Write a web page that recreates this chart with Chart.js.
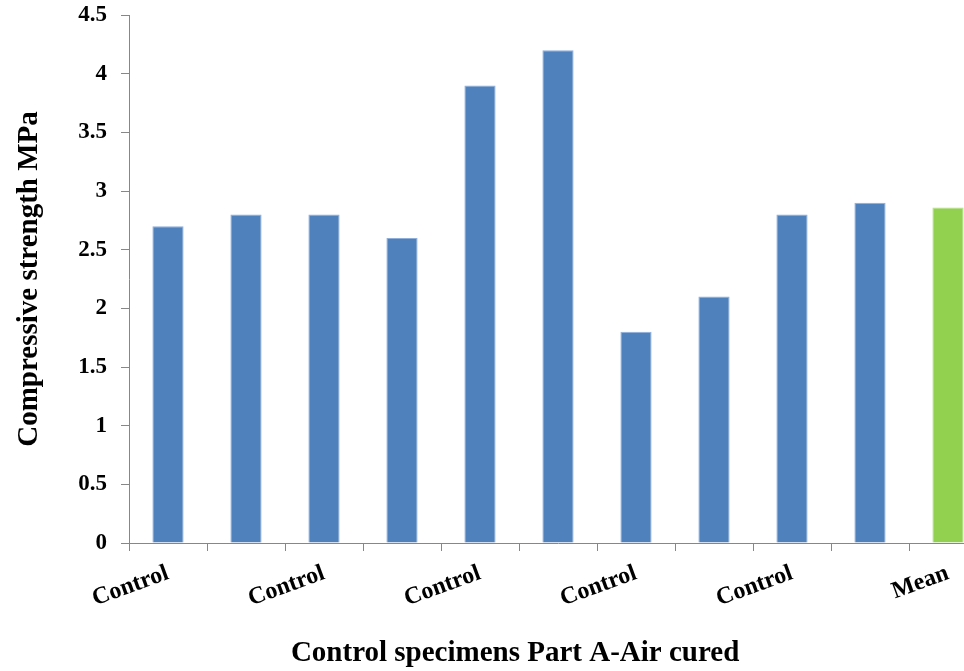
<!DOCTYPE html>
<html>
<head>
<meta charset="utf-8">
<title>Compressive strength – Control specimens Part A</title>
<script src="https://cdn.jsdelivr.net/npm/chart.js@4/dist/chart.umd.min.js"></script>
<style>
  html, body { margin: 0; padding: 0; background: #ffffff; overflow: hidden; }
  #wrap { position: relative; width: 1000px; height: 671px; }
</style>
</head>
<body>
<div id="wrap"><canvas id="chart"></canvas></div>
<script>
// Specimen categories (ten control specimens and their mean)
const categories = ['Control', 'Control', 'Control', 'Control', 'Control',
                    'Control', 'Control', 'Control', 'Control', 'Control', 'Mean'];
// Compressive strength, MPa
const strength = [2.7, 2.8, 2.8, 2.6, 3.9, 4.2, 1.8, 2.1, 2.8, 2.9, 2.86];
// Value axis range and step
const yMin = 0;
const yMax = 4.5;
const yStep = 0.5;

const xTitle = 'Control specimens Part A-Air cured';
const yTitle = 'Compressive strength MPa';

const SERIF = "'Liberation Serif', 'Times New Roman', Times, serif";
const AXIS_GREY = '#878787';

// Draws the category-axis caption under the rotated labels
const xCaption = {
  id: 'xCaption',
  afterDraw(chart) {
    const { ctx, chartArea } = chart;
    ctx.save();
    ctx.font = 'bold 29px ' + SERIF;
    ctx.fillStyle = '#000000';
    ctx.textAlign = 'center';
    ctx.textBaseline = 'alphabetic';
    const cx = chartArea.left + (chartArea.right - chartArea.left) * 0.45;
    ctx.fillText(xTitle, cx, chart.height - 10);
    ctx.restore();
  }
};

new Chart(document.getElementById('chart'), {
  type: 'bar',
  data: {
    labels: categories,
    datasets: [{
      data: strength,
      backgroundColor: categories.map(c => c === 'Mean' ? '#92D050' : '#4F81BD'),
      borderColor: categories.map(c => c === 'Mean' ? '#B4E08A' : '#8FAEDA'),
      borderWidth: 1,
      categoryPercentage: 1.0,
      barPercentage: 0.4
    }]
  },
  options: {
    responsive: true,
    maintainAspectRatio: false,
    animation: false,
    layout: { padding: { left: 0, right: 13, top: 15, bottom: 0 } },
    plugins: {
      legend: { display: false },
      tooltip: { enabled: false }
    },
    scales: {
      x: {
        offset: true,
        grid: {
          display: true,
          offset: true,
          drawOnChartArea: false,
          drawTicks: true,
          tickLength: 8,
          color: AXIS_GREY,
          lineWidth: 1
        },
        border: { display: true, color: AXIS_GREY, width: 1 },
        ticks: {
          autoSkip: false,
          minRotation: 20,
          maxRotation: 20,
          padding: 8,
          color: '#000000',
          font: { family: SERIF, size: 24, weight: 'bold' },
          callback: function (value, index) {
            return index % 2 === 0 ? this.getLabelForValue(value) : '';
          }
        },
        afterFit(scale) { scale.height = 128; }
      },
      y: {
        min: yMin,
        max: yMax,
        grid: {
          display: true,
          drawOnChartArea: false,
          drawTicks: true,
          tickLength: 8,
          color: AXIS_GREY,
          lineWidth: 1
        },
        border: { display: true, color: AXIS_GREY, width: 1 },
        ticks: {
          stepSize: yStep,
          padding: 14,
          color: '#000000',
          font: { family: SERIF, size: 23, weight: 'bold' },
          callback: value => String(Number(value.toFixed(1)))
        },
        title: {
          display: true,
          text: yTitle,
          color: '#000000',
          font: { family: SERIF, size: 29, weight: 'bold' },
          padding: { top: 12, bottom: 0 }
        },
        afterFit(scale) {
          scale.width = 129;
          scale.paddingTop = 0;
          scale.paddingBottom = 0;
        }
      }
    }
  },
  plugins: [xCaption]
});
</script>
</body>
</html>
